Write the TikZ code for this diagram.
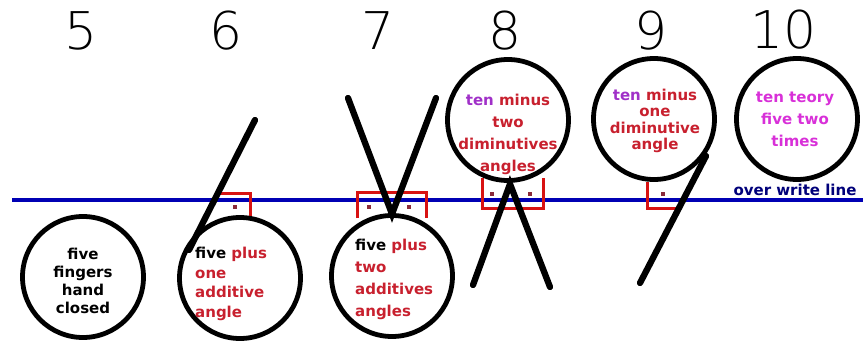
\documentclass[tikz,border=0pt]{standalone}
\usepackage{fontspec}
\setmainfont{DejaVu Sans}
\newfontfamily\digitfont{DejaVu Sans ExtraLight}
\usepackage{xcolor}
\usepackage{tikz}
\usetikzlibrary{positioning}
\definecolor{wordred}{HTML}{C8202E}
\definecolor{tenpurple}{HTML}{A030C8}
\definecolor{tenpink}{HTML}{D830D8}
\definecolor{lineblue}{HTML}{0000B4}
\definecolor{navy}{HTML}{00007A}
\definecolor{cornerred}{HTML}{D81212}
\definecolor{dotred}{HTML}{8A2A3A}

\begin{document}
\begin{tikzpicture}[
  x=1pt, y=-1pt,
  ring/.style={draw, circle, line width=4.8pt, minimum size=121pt, inner sep=0pt},
  digit/.style={font=\digitfont\fontsize{52}{52}\selectfont, inner sep=0pt},
  words/.style={font=\bfseries\fontsize{15}{22}\selectfont, align=center, inner sep=0pt},
  pen/.style={line width=6.3pt, line cap=round},
  corner/.style={draw=cornerred, line width=3pt},
  dot/.style={fill=dotred, minimum size=3.5pt, inner sep=0pt}
]
  \useasboundingbox (0,0) rectangle (863,345);

  \node[digit] (d5) at (81,31) {5};
  \node[digit] (d6) at (226,31) {6};
  \node[digit] (d7) at (378,31) {7};
  \node[digit] (d8) at (505,31) {8};
  \node[digit] (d9) at (651,31) {9};
  \node[digit] (d10) at (784,30) {10};

  \coordinate (wl) at (12,200);
  \coordinate (wr) at (863,200);
  \draw[lineblue, line width=4.5pt] (wl) -- (wr);
  \node[words, text=navy] (owl) at (795,190) {over write line};

  \draw[corner] (216,193) -- (250,193) -- (250,218);
  \draw[corner] (357,218) -- (357,192) -- (426,192) -- (426,218);
  \draw[corner] (482,178) -- (482,208) -- (543,208) -- (543,178);
  \draw[corner] (647,182) -- (647,208) -- (677,208);
  \node[dot] (p6) at (235,207) {};
  \node[dot] (p7a) at (369,207) {};
  \node[dot] (p7b) at (409,207) {};
  \node[dot] (p8a) at (492,194) {};
  \node[dot] (p8b) at (530,194) {};
  \node[dot] (p9) at (663,194) {};

  \coordinate (s6a) at (255,120);
  \coordinate (s6b) at (189,250);
  \coordinate (s7a) at (348,98);
  \coordinate (s7b) at (436,98);
  \coordinate (s7c) at (392,214);
  \coordinate (s8a) at (473,285);
  \coordinate (s8b) at (510,184);
  \coordinate (s8c) at (550,287);
  \coordinate (s9a) at (706,156);
  \coordinate (s9b) at (640,283);
  \draw[pen] (s6a) -- (s6b);
  \draw[pen] (s7a) -- (s7c) -- (s7b);
  \draw[pen] (s8a) -- (s8b) -- (s8c);
  \draw[pen] (s9a) -- (s9b);

  \node[ring] (c5) at (83,277) {};
  \node[ring] (c6) at (240,278) {};
  \node[ring] (c7) at (392,276) {};
  \node[ring] (c8) at (508,120) {};
  \node[ring] (c9) at (654,119) {};
  \node[ring] (c10) at (797,119) {};

  \node[words, font=\bfseries\fontsize{15}{18}\selectfont] (t5) at (83,281) {five\\fingers\\hand\\closed};
  \node[words, align=left, anchor=west, text=wordred, font=\bfseries\fontsize{15}{19.5}\selectfont] (t6) at (195,284) {\textcolor{black}{five} plus\\one\\additive\\angle};
  \node[words, align=left, anchor=west, text=wordred] (t7) at (355,279) {\textcolor{black}{five} plus\\two\\additives\\angles};
  \node[words, text=wordred] (t8) at (508,134) {\textcolor{tenpurple}{ten} minus\\two\\diminutives\\angles};
  \node[words, text=wordred, font=\bfseries\fontsize{15}{16.3}\selectfont] (t9) at (655,121) {\textcolor{tenpurple}{ten} minus\\one\\diminutive\\angle};
  \node[words, text=tenpink] (t10) at (795,119) {ten teory\\five two\\times};
\end{tikzpicture}
\end{document}
